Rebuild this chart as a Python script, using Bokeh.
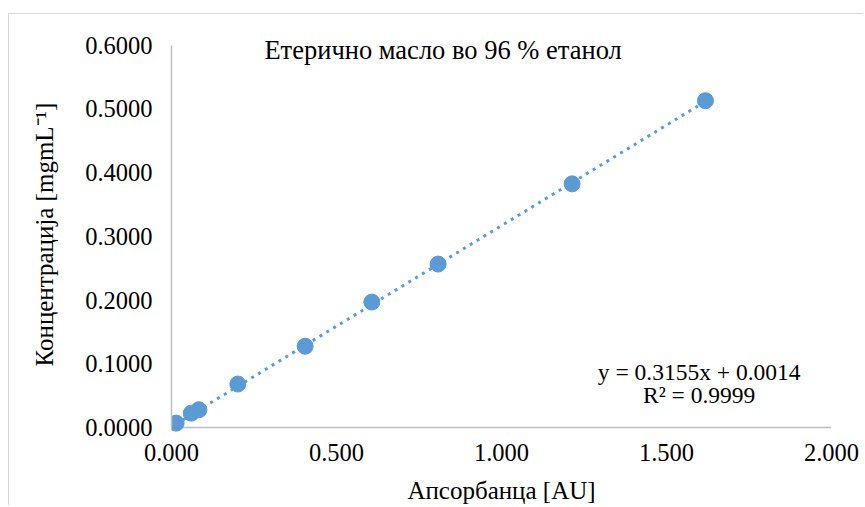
from bokeh.plotting import figure
from bokeh.models import Label, FixedTicker, NumeralTickFormatter, Range1d, Span
from bokeh.embed import file_html
from bokeh.resources import INLINE

# Data
absorbance = [0.014, 0.060, 0.083, 0.201, 0.405, 0.607, 0.808, 1.214, 1.618]
concentration = [0.0070, 0.0226, 0.0280, 0.0683, 0.1276, 0.1970, 0.2566, 0.3825, 0.5130]
slope = 0.3155
intercept = 0.0014
r_squared = 0.9999
x_ticks = [0.0, 0.5, 1.0, 1.5, 2.0]
y_ticks = [0.0, 0.1, 0.2, 0.3, 0.4, 0.5, 0.6]

title_text = "Етерично масло во 96 % етанол"
x_title = "Апсорбанца [AU]"
y_title = "Концентрација [mgmL\u207b\u00b9]"

FONT = "Liberation Serif"
BLUE = "#5b9bd5"
AXIS_GRAY = "#bfbfbf"

p = figure(width=855, height=492, output_backend="svg", toolbar_location=None,
           x_range=Range1d(0, 2.0), y_range=Range1d(-0.014, 0.62),
           min_border_left=162, min_border_right=33, min_border_top=18, min_border_bottom=68)
p.styles = {"margin-left": "8px", "margin-top": "13px",
            "border-top": "1.5px solid #d9d9d9", "border-left": "1.5px solid #d9d9d9"}
p.outline_line_color = None
p.xgrid.visible = False
p.ygrid.visible = False
p.background_fill_color = "white"
p.border_fill_color = "white"

# x axis baseline at y = 0 (drawn under the markers)
p.add_layout(Span(location=0, dimension="width", line_color=AXIS_GRAY, line_width=1.5, level="underlay"))

# trendline
tx = [min(absorbance), max(absorbance)]
ty = [slope * v + intercept for v in tx]
p.line(tx, ty, line_color=BLUE, line_width=3, line_dash="3 5")

p.scatter(absorbance, concentration, size=16, fill_color=BLUE, line_color=BLUE)

for ax in (p.xaxis[0], p.yaxis[0]):
    ax.axis_line_color = AXIS_GRAY
    ax.axis_line_width = 1.5
    ax.major_tick_line_color = None
    ax.minor_tick_line_color = None
    ax.major_label_text_font = FONT
    ax.major_label_text_font_size = "24.5px"
    ax.major_label_text_color = "black"
    ax.axis_label_text_font = FONT
    ax.axis_label_text_font_size = "25px"
    ax.axis_label_text_font_style = "normal"
    ax.axis_label_text_color = "black"

p.xaxis.axis_line_color = None
p.xaxis.major_label_text_line_height = 0.9
p.xaxis.axis_label_text_line_height = 0.8
p.xaxis.ticker = FixedTicker(ticks=x_ticks)
p.yaxis.ticker = FixedTicker(ticks=y_ticks)
p.xaxis.formatter = NumeralTickFormatter(format="0.000")
p.yaxis.formatter = NumeralTickFormatter(format="0.0000")
p.yaxis.bounds = (0, 0.6)
p.xaxis.axis_label = x_title
p.yaxis.axis_label = y_title
p.xaxis.major_label_standoff = 1
p.xaxis.axis_label_standoff = 13
p.yaxis.major_label_standoff = 13
p.yaxis.axis_label_standoff = 24

p.add_layout(Label(x=0.823, y=0.592, text=title_text, text_font=FONT, text_font_size="26.5px",
                   text_align="center", text_baseline="middle", text_color="black"))
p.add_layout(Label(x=1.599, y=0.088, text=f"y = {slope:.4f}x + {intercept:.4f}", text_font=FONT,
                   text_font_size="23.5px", text_align="center", text_baseline="middle", text_color="black"))
p.add_layout(Label(x=1.599, y=0.0505, text=f"R\u00b2 = {r_squared:.4f}", text_font=FONT,
                   text_font_size="23.5px", text_align="center", text_baseline="middle", text_color="black"))

open("out.html", "w").write(file_html(p, INLINE))
